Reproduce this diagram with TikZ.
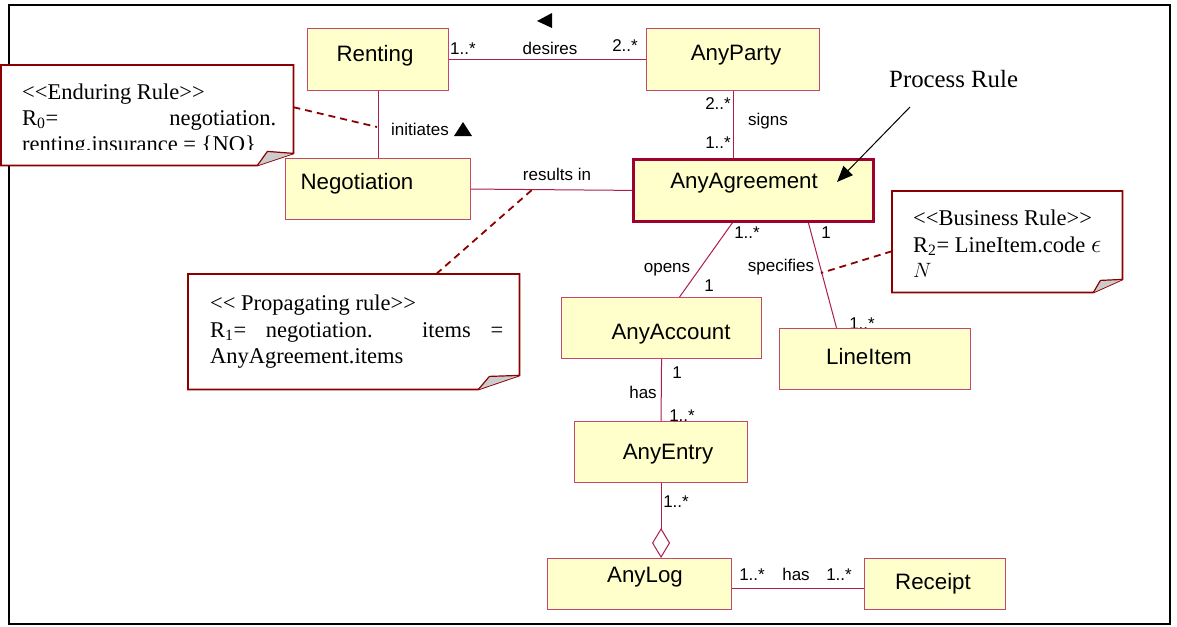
\documentclass[tikz,border=0pt]{standalone}
\usepackage{fontspec}
\setmainfont{Liberation Serif}
\newfontfamily\classfont{Liberation Sans}
\usetikzlibrary{arrows.meta}

\definecolor{clsfill}{RGB}{255,255,204}
\definecolor{clsline}{RGB}{196,72,110}
\definecolor{keyline}{RGB}{160,0,48}
\definecolor{assocline}{RGB}{170,30,75}
\definecolor{noteline}{RGB}{140,0,0}
\definecolor{foldfill}{RGB}{204,204,204}

\pgfdeclarelayer{under}
\pgfsetlayers{under,main}

% outline of a UML note with a dog-eared lower right corner
% #1 node, #2 fold length along bottom, #3 fold height along right side,
% #4/#5 offset of the fold apex from the south east corner
\newcommand\foldnote[5]{%
  \draw[notebody] (#1.north west) -- (#1.north east)
    -- ([yshift=#3]#1.south east) -- ([xshift=-#2]#1.south east)
    -- (#1.south west) -- cycle;
  \filldraw[foldpart] ([xshift=-#2]#1.south east)
    -- ([shift={(#4,#5)}]#1.south east) -- ([yshift=#3]#1.south east);
}

\begin{document}
\begin{tikzpicture}[x=1pt,y=-1pt,
  clsbox/.style={draw=clsline, fill=clsfill, line width=1.1pt, inner sep=0pt, anchor=north west},
  keybox/.style={clsbox, draw=keyline, line width=2.8pt},
  clstext/.style={font=\classfont\fontsize{22.3}{26}\selectfont, inner sep=0pt, anchor=base},
  lbl/.style={font=\classfont\fontsize{17}{20}\selectfont, inner sep=0pt, anchor=base},
  assoc/.style={draw=assocline, line width=1pt},
  noteframe/.style={inner sep=0pt, anchor=north west},
  notebody/.style={draw=noteline, fill=white, line width=1.8pt, line join=miter},
  foldpart/.style={draw=noteline, fill=foldfill, line width=1.2pt, line join=round},
  notetext/.style={font=\fontsize{22.5}{26}\selectfont, inner sep=0pt, anchor=base west},
  dashlink/.style={draw=noteline, line width=1.8pt, dash pattern=on 7pt off 5pt},
  pointer/.style={draw=black, line width=1pt, -{Triangle[length=16pt,width=13pt]}},
]
\begin{pgfonlayer}{under}
\path[use as bounding box, fill=white] (0,0) rectangle (1177,626);
\draw[line width=1.5pt] (9,5) rectangle (1170,624);
\end{pgfonlayer}

% class boxes (geometry only, names drawn separately)
\path
  (307,28)  node[clsbox, minimum width=141pt, minimum height=62pt] (renting) {}
  (646,28)  node[clsbox, minimum width=173pt, minimum height=62pt] (anyparty) {}
  (285,158) node[clsbox, minimum width=185pt, minimum height=61pt] (negotiation) {}
  (632,158) node[keybox, minimum width=240pt, minimum height=62pt] (anyagreement) {}
  (561,297) node[clsbox, minimum width=200pt, minimum height=61pt] (anyaccount) {}
  (779,328) node[clsbox, minimum width=191pt, minimum height=61pt] (lineitem) {}
  (574,421) node[clsbox, minimum width=173pt, minimum height=61pt] (anyentry) {}
  (547,558) node[clsbox, minimum width=184pt, minimum height=51pt] (anylog) {}
  (864,558) node[clsbox, minimum width=141pt, minimum height=51pt] (receipt) {};

\coordinate (hasl) at ([yshift=-4.5pt]anylog.east);
\coordinate (initpt) at (377,127);
\coordinate (respt) at (533,189);
\coordinate (specpt) at (821,273);

\begin{pgfonlayer}{under}
% associations
\draw[assoc] (renting.east) -- (anyparty.west);
\draw[assoc] (renting.south) -- (negotiation.north);
\draw[assoc] (anyparty.south) -- (anyparty.south |- anyagreement.north);
\draw[assoc] (negotiation.east) -- (anyagreement.west);
\draw[assoc] ([xshift=-21pt]anyagreement.south) -- ([xshift=18pt]anyaccount.north);
\draw[assoc] ([xshift=55pt]anyagreement.south) -- ([xshift=-38.5pt]lineitem.north);
\draw[assoc] (anyaccount.south) -- (anyentry.north);
\draw[assoc, -{Diamond[open, length=30pt, width=18pt]}] (anyentry.south) -- (anyentry.south |- anylog.north);
\draw[assoc] (hasl) -- (hasl -| receipt.west);

% association names and multiplicities
\node[lbl] (m-rent) at (463,55) {1..*};
\node[lbl] (n-desires) at (550,55) {desires};
\node[lbl] (m-party) at (625,52) {2..*};
\node[lbl] (m-signs1) at (718,109) {2..*};
\node[lbl] (n-signs) at (768,125) {signs};
\node[lbl] (m-signs2) at (718,148) {1..*};
\node[lbl] (n-init) at (420,135) {initiates};
\node[lbl] (n-results) at (557,180) {results in};
\node[lbl] (m-opens1) at (747,238) {1..*};
\node[lbl] (n-opens) at (667,272) {opens};
\node[lbl] (m-opens2) at (709,291) {1};
\node[lbl] (m-spec1) at (826,238) {1};
\node[lbl] (n-spec) at (781,271) {specifies};
\node[lbl] (m-spec2) at (862,329) {1..*};
\node[lbl] (m-has1) at (677,378) {1};
\node[lbl] (n-has) at (643,398) {has};
\node[lbl] (m-has2) at (682,421) {1..*};
\node[lbl] (m-agg) at (676,507) {1..*};
\node[lbl] (m-log) at (752,580) {1..*};
\node[lbl] (n-loghas) at (796,580) {has};
\node[lbl] (m-rcpt) at (839,580) {1..*};

% reading-direction markers
\fill (537,21) -- (552,13) -- (552,28) -- cycle;
\fill (463,122) -- (454,136) -- (472,136) -- cycle;
\end{pgfonlayer}

% class names
\node[clstext] (renting-t) at (375,61) {Renting};
\node[clstext] (anyparty-t) at (736,60) {AnyParty};
\node[clstext] (negotiation-t) at (357,189) {Negotiation};
\node[clstext] (anyagreement-t) at (744,188) {AnyAgreement};
\node[clstext] (anyaccount-t) at (671,339) {AnyAccount};
\node[clstext] (lineitem-t) at (869,364) {LineItem};
\node[clstext] (anyentry-t) at (668,459) {AnyEntry};
\node[clstext] (anylog-t) at (645,582) {AnyLog};
\node[clstext] (receipt-t) at (933,589) {Receipt};

% process rule pointer
\node[notetext, font=\fontsize{24.8}{28}\selectfont] (procrule) at (889,87) {Process Rule};
\coordinate (pr-tail) at (910,107);
\coordinate (pr-tip) at (837,182);
\draw[pointer] (pr-tail) -- (pr-tip);

% rule notes
\path
  (1,65)    node[noteframe, minimum width=292pt, minimum height=100pt] (endnote) {}
  (188,274) node[noteframe, minimum width=331pt, minimum height=115pt] (propnote) {}
  (892,191) node[noteframe, minimum width=230pt, minimum height=101pt] (busnote) {};
\foldnote{endnote}{36pt}{12pt}{-26pt}{14pt}
\foldnote{propnote}{41pt}{14pt}{-30pt}{13pt}
\foldnote{busnote}{29pt}{13pt}{-22pt}{12pt}

\begin{scope}
\clip (0,65) rectangle (293,149.5);
\node[notetext] (end-1) at (22,99) {<{}<Enduring Rule>{}>};
\node[notetext] (end-2) at (22,125) {\makebox[254pt][s]{R\textsubscript{0}= negotiation.}};
\node[notetext] (end-3) at (22,151) {renting.insurance = \{NO\}};
\end{scope}

\node[notetext] (prop-1) at (210,310) {<{}< Propagating rule>{}>};
\node[notetext] (prop-2) at (210,337) {\makebox[293pt][s]{R\textsubscript{1}= negotiation. items =}};
\node[notetext] (prop-3) at (210,363) {AnyAgreement.items};

\node[notetext] (bus-1) at (913,225) {<{}<Business Rule>{}>};
\node[notetext] (bus-2) at (913,252) {R\textsubscript{2}= LineItem.code \scalebox{1.25}{$\epsilon$}};
\node[notetext] (bus-3) at (913,277) {$N$};

% constraint links
\draw[dashlink] ([yshift=8pt]endnote.east) -- (initpt);
\draw[dashlink] ([xshift=82.5pt]propnote.north) -- (respt);
\draw[dashlink] ([yshift=-9.5pt]busnote.west) -- (specpt);
\end{tikzpicture}
\end{document}
